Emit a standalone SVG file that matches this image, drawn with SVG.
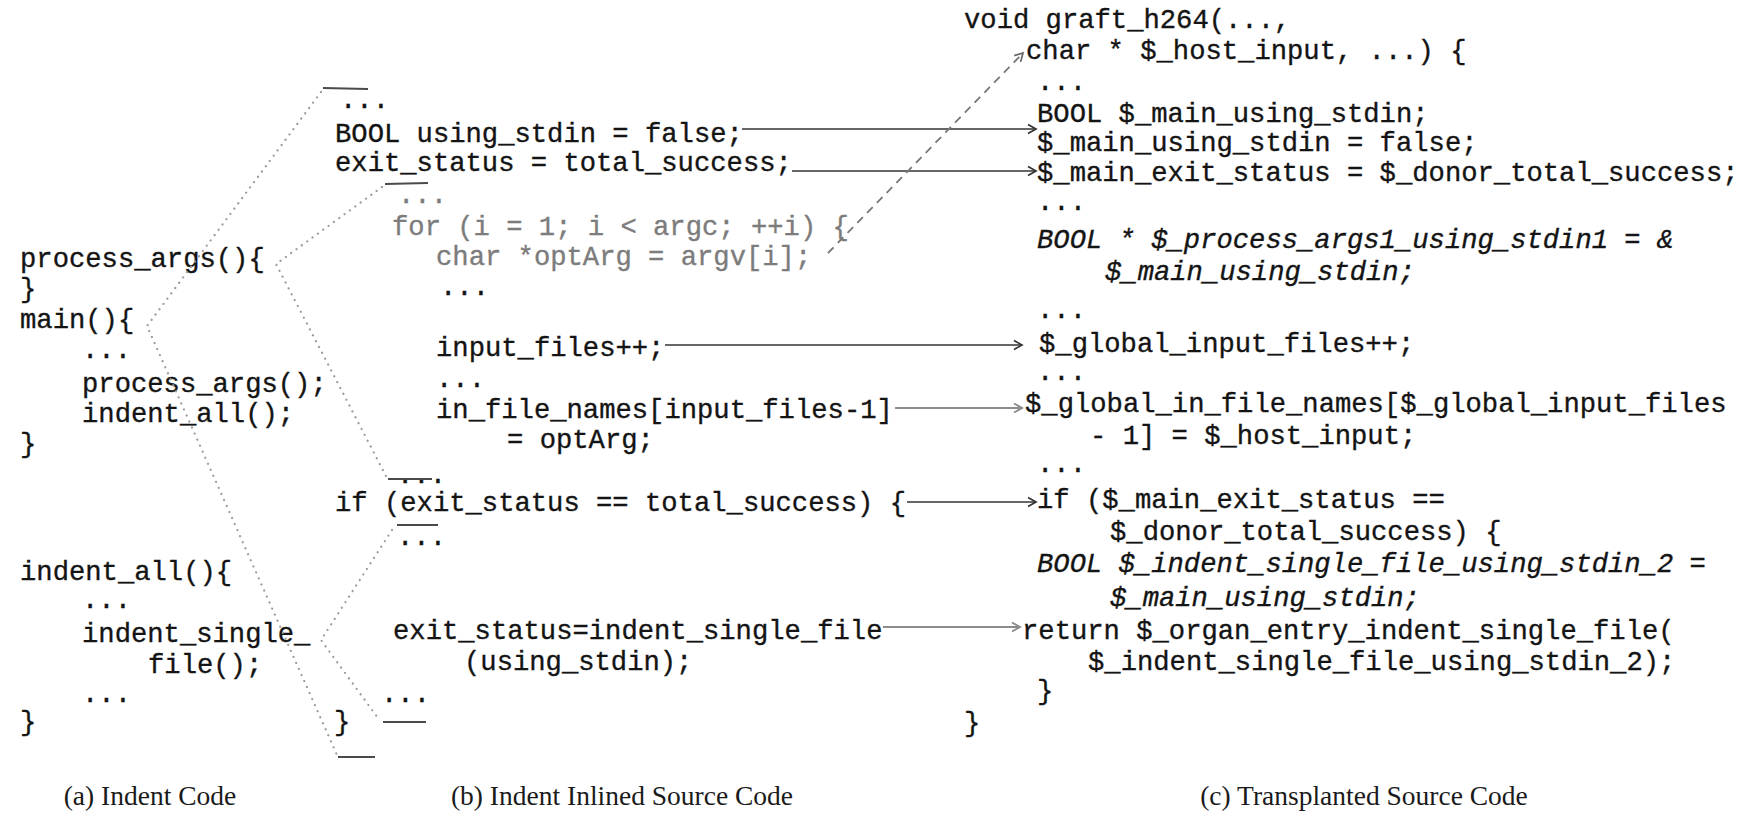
<svg xmlns="http://www.w3.org/2000/svg" width="1745" height="813" viewBox="0 0 1745 813">
  <defs>
    <style>
      text { white-space: pre; }
      .code { font-family: "Liberation Mono", "DejaVu Sans Mono", monospace; font-size: 27.2px; fill: #141414; stroke: #141414; stroke-width: 0.35; }
      .gray { fill: #7c7c7c; stroke: #7c7c7c; }
      .it { font-style: italic; }
      .cap { font-family: "Liberation Serif", "Times New Roman", serif; font-size: 27.5px; fill: #1a1a1a; text-anchor: middle; }
      .dot { fill: none; stroke: #9c9c9c; stroke-width: 2.2; stroke-dasharray: 0.1 6.5; stroke-linecap: round; }
      .bar { stroke: #4a4a4a; stroke-width: 2; }
      .arr { fill: none; stroke: #333; stroke-width: 1.7; marker-end: url(#head-dark); }
      .arr-lt { fill: none; stroke: #8c8c8c; stroke-width: 1.9; marker-end: url(#head-light); }
      .dash { fill: none; stroke: #777; stroke-width: 1.8; stroke-dasharray: 8 6; marker-end: url(#head-dash); }
    </style>
    <marker id="head-dark" markerUnits="userSpaceOnUse" markerWidth="14" markerHeight="14" refX="11" refY="7" orient="auto">
      <path d="M3,2.5 L11,7 L3,11.5" fill="none" stroke="#333" stroke-width="1.7"/>
    </marker>
    <marker id="head-light" markerUnits="userSpaceOnUse" markerWidth="14" markerHeight="14" refX="11" refY="7" orient="auto">
      <path d="M3,2.5 L11,7 L3,11.5" fill="none" stroke="#8c8c8c" stroke-width="1.9"/>
    </marker>
    <marker id="head-dash" markerUnits="userSpaceOnUse" markerWidth="14" markerHeight="14" refX="11" refY="7" orient="auto">
      <path d="M3,2.5 L11,7 L3,11.5" fill="none" stroke="#666" stroke-width="1.7"/>
    </marker>
  </defs>

  <rect width="1745" height="813" fill="#ffffff"/>

  <!-- (a) original functions -->
  <g id="panel-a" class="code">
    <g id="a-process-args">
      <text class="code" x="20" y="267">process_args(){</text>
      <text class="code" x="20" y="297">}</text>
    </g>
    <g id="a-main">
      <text class="code" x="20" y="328">main(){</text>
      <text class="code" x="82" y="358">...</text>
      <text class="code" x="82" y="392">process_args();</text>
      <text class="code" x="82" y="422">indent_all();</text>
      <text class="code" x="20" y="452">}</text>
    </g>
    <g id="a-indent-all">
      <text class="code" x="20" y="580">indent_all(){</text>
      <text class="code" x="82" y="608">...</text>
      <text class="code" x="82" y="642">indent_single_</text>
      <text class="code" x="148" y="673">file();</text>
      <text class="code" x="82" y="702">...</text>
      <text class="code" x="20" y="730">}</text>
    </g>
  </g>

  <!-- (b) main with callees inlined -->
  <g id="panel-b">
    <text class="code" x="340" y="108">...</text>
    <g id="b-using-stdin"><text class="code" x="335" y="142">BOOL using_stdin = false;</text></g>
    <g id="b-exit-status"><text class="code" x="335" y="171">exit_status = total_success;</text></g>
    <text class="code gray" x="398" y="203">...</text>
    <text class="code gray" x="392" y="235">for (i = 1; i &lt; argc; ++i) {</text>
    <g id="b-optarg"><text class="code gray" x="436" y="265">char *optArg = argv[i];</text></g>
    <text class="code" x="440" y="295">...</text>
    <g id="b-input-files"><text class="code" x="436" y="356">input_files++;</text></g>
    <text class="code" x="436" y="387">...</text>
    <g id="b-in-file-names">
      <text class="code" x="436" y="418">in_file_names[input_files-1]</text>
      <text class="code" x="507" y="448">= optArg;</text>
    </g>
    <text class="code" x="397" y="483">...</text>
    <g id="b-if"><text class="code" x="335" y="511">if (exit_status == total_success) {</text></g>
    <text class="code" x="397" y="545">...</text>
    <g id="b-indent-call">
      <text class="code" x="393" y="639">exit_status=indent_single_file</text>
      <text class="code" x="464" y="670">(using_stdin);</text>
    </g>
    <text class="code" x="381" y="702">...</text>
    <text class="code" x="334" y="730">}</text>
  </g>

  <!-- (c) transplanted organ -->
  <g id="panel-c">
    <g id="c-signature">
      <text class="code" x="964" y="28">void graft_h264(...,</text>
      <text class="code" x="1026" y="59">char * $_host_input, ...) {</text>
    </g>
    <text class="code" x="1037" y="90">...</text>
    <g id="c-using-stdin">
      <text class="code" x="1037" y="122">BOOL $_main_using_stdin;</text>
      <text class="code" x="1037" y="151">$_main_using_stdin = false;</text>
    </g>
    <g id="c-exit-status"><text class="code" x="1037" y="181">$_main_exit_status = $_donor_total_success;</text></g>
    <text class="code" x="1037" y="210">...</text>
    <g id="c-process-args-ptr">
      <text class="code it" x="1037" y="248">BOOL * $_process_args1_using_stdin1 = &amp;</text>
      <text class="code it" x="1105" y="280">$_main_using_stdin;</text>
    </g>
    <text class="code" x="1037" y="318">...</text>
    <g id="c-input-files"><text class="code" x="1039" y="352">$_global_input_files++;</text></g>
    <text class="code" x="1037" y="380">...</text>
    <g id="c-in-file-names">
      <text class="code" x="1025" y="412">$_global_in_file_names[$_global_input_files</text>
      <text class="code" x="1090" y="444">- 1] = $_host_input;</text>
    </g>
    <text class="code" x="1037" y="472">...</text>
    <g id="c-if">
      <text class="code" x="1037" y="508">if ($_main_exit_status ==</text>
      <text class="code" x="1110" y="540">$_donor_total_success) {</text>
    </g>
    <g id="c-indent-stdin">
      <text class="code it" x="1037" y="572">BOOL $_indent_single_file_using_stdin_2 =</text>
      <text class="code it" x="1110" y="606">$_main_using_stdin;</text>
    </g>
    <g id="c-return">
      <text class="code" x="1022" y="639">return $_organ_entry_indent_single_file(</text>
      <text class="code" x="1088" y="670">$_indent_single_file_using_stdin_2);</text>
    </g>
    <text class="code" x="1037" y="699">}</text>
    <text class="code" x="964" y="731">}</text>
  </g>

  <!-- inlining brackets and mappings -->
  <g id="connectors">
    <!-- region markers in (b) -->
    <line class="bar" x1="323" y1="88" x2="368" y2="89"/>
    <line class="bar" x1="385" y1="184" x2="428" y2="183"/>
    <line class="bar" x1="388" y1="479" x2="432" y2="479"/>
    <line class="bar" x1="397" y1="525" x2="438" y2="525"/>
    <line class="bar" x1="383" y1="722" x2="426" y2="722"/>
    <line class="bar" x1="338" y1="757" x2="375" y2="757"/>

    <!-- dotted fans from call sites to inlined bodies -->
    <polyline class="dot" points="321,92 147,326 337,755"/>
    <polyline class="dot" points="382,187 276,264 387,478"/>
    <polyline class="dot" points="392,530 321,640 378,718"/>

    <!-- statement mappings (b) to (c) -->
    <line class="arr" x1="742" y1="129" x2="1036" y2="129"/>
    <line class="arr" x1="792" y1="171" x2="1036" y2="171"/>
    <line class="arr" x1="665" y1="345" x2="1022" y2="345"/>
    <line class="arr-lt" x1="895" y1="408" x2="1022" y2="408"/>
    <line class="arr" x1="907" y1="502" x2="1036" y2="502"/>
    <line class="arr-lt" x1="883" y1="627" x2="1020" y2="627"/>
    <line class="dash" x1="828" y1="253" x2="1023" y2="53"/>
  </g>

  <!-- sub-figure captions -->
  <g id="captions">
    <text class="cap" x="150" y="805">(a) Indent Code</text>
    <text class="cap" x="622" y="805">(b) Indent Inlined Source Code</text>
    <text class="cap" x="1364" y="805">(c) Transplanted Source Code</text>
  </g>
</svg>
